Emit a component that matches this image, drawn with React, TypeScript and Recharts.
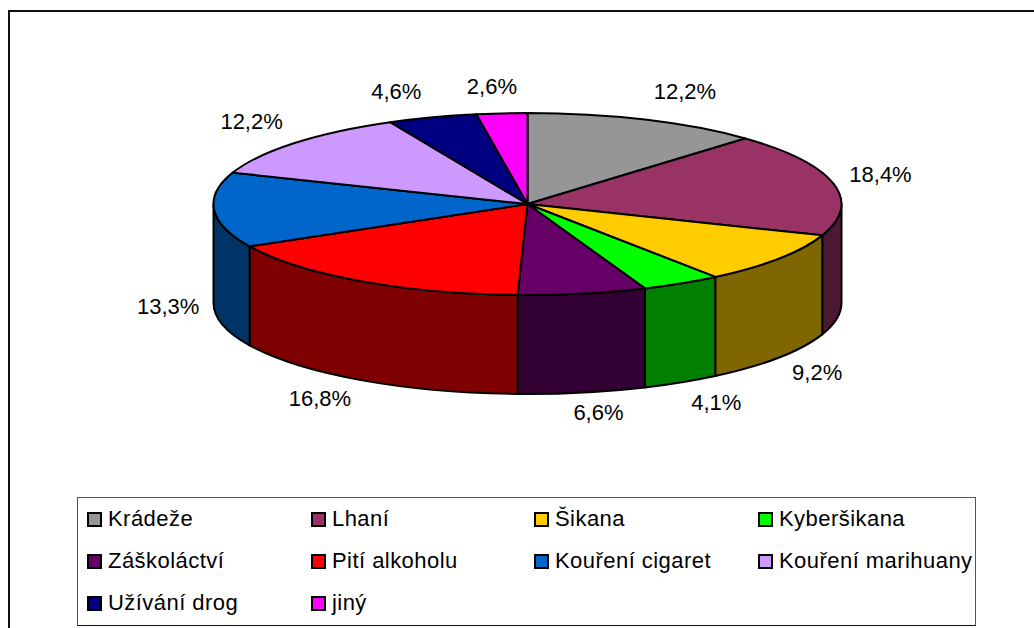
import { PieChart, Pie, Legend } from 'recharts'

const CATEGORIES = ['Krádeže', 'Lhaní', 'Šikana', 'Kyberšikana', 'Záškoláctví', 'Pití alkoholu', 'Kouření cigaret', 'Kouření marihuany', 'Užívání drog', 'jiný']
const VALUES = [12.2, 18.4, 9.2, 4.1, 6.6, 16.8, 13.3, 12.2, 4.6, 2.6]
const COLORS = ['#969696', '#993366', '#FFCC00', '#00FF00', '#660066', '#FF0000', '#0066CC', '#CC99FF', '#000080', '#FF00FF']

// posun popisku od okraje koláče
const LABEL_NUDGE = [[40, -28], [47, -9], [38, 114], [35, 119], [16, 119], [-41, 117], [-46, 97], [-43, -21], [-36, -26], [-10, -27]]

const chartData = CATEGORIES.map((name, i) => ({ name, value: VALUES[i], fill: COLORS[i] }))

const CX = 527.5
const CY = 204
const RX = 314
const RY = 91
const DEPTH = 99
const RAD = Math.PI / 180
const FONT = '"Liberation Sans", Arial, sans-serif'

const px = (a: number) => CX + RX * Math.cos(a * RAD)
const py = (a: number) => CY - RY * Math.sin(a * RAD)

const darken = (hex: string) => {
  const n = parseInt(hex.slice(1), 16)
  const half = (v: number) => Math.floor(v / 2).toString(16).padStart(2, '0')
  return `#${half((n >> 16) & 255)}${half((n >> 8) & 255)}${half(n & 255)}`
}

// výseč jako elipsa + viditelná boční stěna
function Slice3D(props: any) {
  const { startAngle, endAngle, fill } = props
  const wallStart = Math.min(startAngle, 0)
  const wallEnd = Math.max(endAngle, -180)
  const large = startAngle - endAngle > 180 ? 1 : 0
  return (
    <g>
      {wallStart > wallEnd && (
        <path
          d={`M${px(wallStart)},${py(wallStart)} A${RX},${RY} 0 0 1 ${px(wallEnd)},${py(wallEnd)} L${px(wallEnd)},${py(wallEnd) + DEPTH} A${RX},${RY} 0 0 0 ${px(wallStart)},${py(wallStart) + DEPTH} Z`}
          fill={darken(fill)}
          stroke="#000"
          strokeWidth={2}
          strokeLinejoin="round"
        />
      )}
      <path
        d={`M${CX},${CY} L${px(startAngle)},${py(startAngle)} A${RX},${RY} 0 ${large} 1 ${px(endAngle)},${py(endAngle)} Z`}
        fill={fill}
        stroke="#000"
        strokeWidth={2}
        strokeLinejoin="round"
      />
    </g>
  )
}

function renderLabel(props: any) {
  const { midAngle, value, index } = props
  const [dx, dy] = LABEL_NUDGE[index]
  return (
    <text x={px(midAngle) + dx} y={py(midAngle) + dy} textAnchor="middle" dominantBaseline="central" fill="#000" fontSize={22} fontFamily={FONT}>
      {`${value.toFixed(1).replace('.', ',')}%`}
    </text>
  )
}

function LegendBox({ payload }: any) {
  return (
    <div style={{ display: 'grid', gridTemplateColumns: '224px 223px 224px 1fr', gridAutoRows: '42px', padding: '0 0 0 9px' }}>
      {(payload || []).map((item: any) => (
        <div key={item.value} style={{ display: 'flex', alignItems: 'center', fontFamily: FONT, fontSize: 22, letterSpacing: 0.45, color: '#000', whiteSpace: 'nowrap', height: 42 }}>
          <span style={{ width: 11, height: 11, border: '2px solid #000', background: item.color, marginRight: 6, display: 'inline-block' }} />
          {item.value}
        </div>
      ))}
    </div>
  )
}

export default function App() {
  return (
    <div style={{ position: 'absolute', left: 0, top: 0, width: 1034, height: 628, overflow: 'hidden', background: '#fff' }}>
      <div style={{ position: 'absolute', left: 8, top: 10, width: 1026, height: 618, boxSizing: 'border-box', borderLeft: '2px solid #111', borderTop: '2px solid #111' }} />
      <div style={{ position: 'absolute', left: 77, top: 497, width: 899, height: 129, boxSizing: 'border-box', border: '1px solid #555', borderBottomColor: '#111' }} />
      <div style={{ position: 'absolute', left: 0, top: 0 }}>
        <PieChart width={1034} height={628} margin={{ top: 0, right: 0, bottom: 0, left: 0 }}>
          <Pie
            data={chartData}
            dataKey="value"
            nameKey="name"
            cx={CX}
            cy={CY}
            outerRadius={RX}
            startAngle={90}
            endAngle={-270}
            stroke="#000"
            shape={Slice3D}
            label={renderLabel}
            labelLine={false}
            isAnimationActive={false}
          />
          <Legend
            content={<LegendBox />}
            itemSorter={null}
            wrapperStyle={{ position: 'absolute', left: 78, top: 498, width: 897, height: 127, bottom: 'auto' }}
          />
        </PieChart>
      </div>
    </div>
  )
}
